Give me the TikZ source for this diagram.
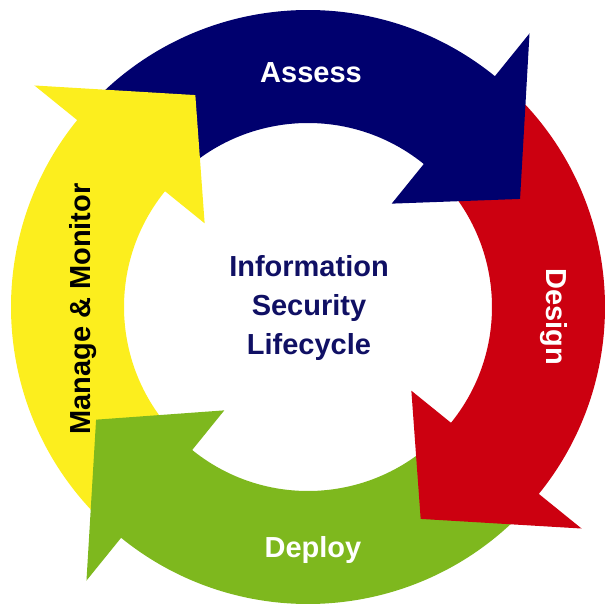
\documentclass[tikz,border=0pt]{standalone}
\usepackage{fontspec}
\setmainfont{Liberation Sans}

\definecolor{assessblue}{RGB}{0,0,110}
\definecolor{designred}{RGB}{204,0,16}
\definecolor{deploygreen}{RGB}{126,184,30}
\definecolor{manageyellow}{RGB}{252,238,30}
\definecolor{centreblue}{RGB}{16,16,100}

\begin{document}
\begin{tikzpicture}[x=1pt,y=1pt,
  lbl/.style={font=\fontsize{29}{39}\selectfont\bfseries,inner sep=0pt}]
\useasboundingbox (-308,-306) rectangle (297,307);

% ring pieces first, so that every head lies on the tail of the next one
\fill[assessblue] (136:297) arc[start angle=136,end angle=50,radius=297]
  -- (50:184) arc[start angle=50,end angle=136,radius=184] -- cycle;
\fill[designred] (46:297) arc[start angle=46,end angle=-40,radius=297]
  -- (-40:184) arc[start angle=-40,end angle=46,radius=184] -- cycle;
\fill[deploygreen] (316:297) arc[start angle=316,end angle=230,radius=297]
  -- (230:184) arc[start angle=230,end angle=316,radius=184] -- cycle;
\fill[manageyellow] (226:297) arc[start angle=226,end angle=140,radius=297]
  -- (140:184) arc[start angle=140,end angle=226,radius=184] -- cycle;

% heads
\fill[assessblue] (51:133) -- (51:352) -- (27:238) -- cycle;
\fill[designred] (-39:133) -- (-39:352) -- (-62:240) -- cycle;
\fill[deploygreen] (231:133) -- (231:352) -- (208:240) -- cycle;
\fill[manageyellow] (141:133) -- (141:352) -- (118:240) -- cycle;

\node[lbl,white] (assess) at (3,234) {Assess};
\node[lbl,white,rotate=-90] (design) at (246,-10) {Design};
\node[lbl,white] (deploy) at (5,-243) {Deploy};
\node[lbl,rotate=90] (manage) at (-225,-2) {Manage \& Monitor};
\node[lbl,centreblue,align=center] (lifecycle) at (1,-1) {Information\\Security\\Lifecycle};

\end{tikzpicture}
\end{document}
